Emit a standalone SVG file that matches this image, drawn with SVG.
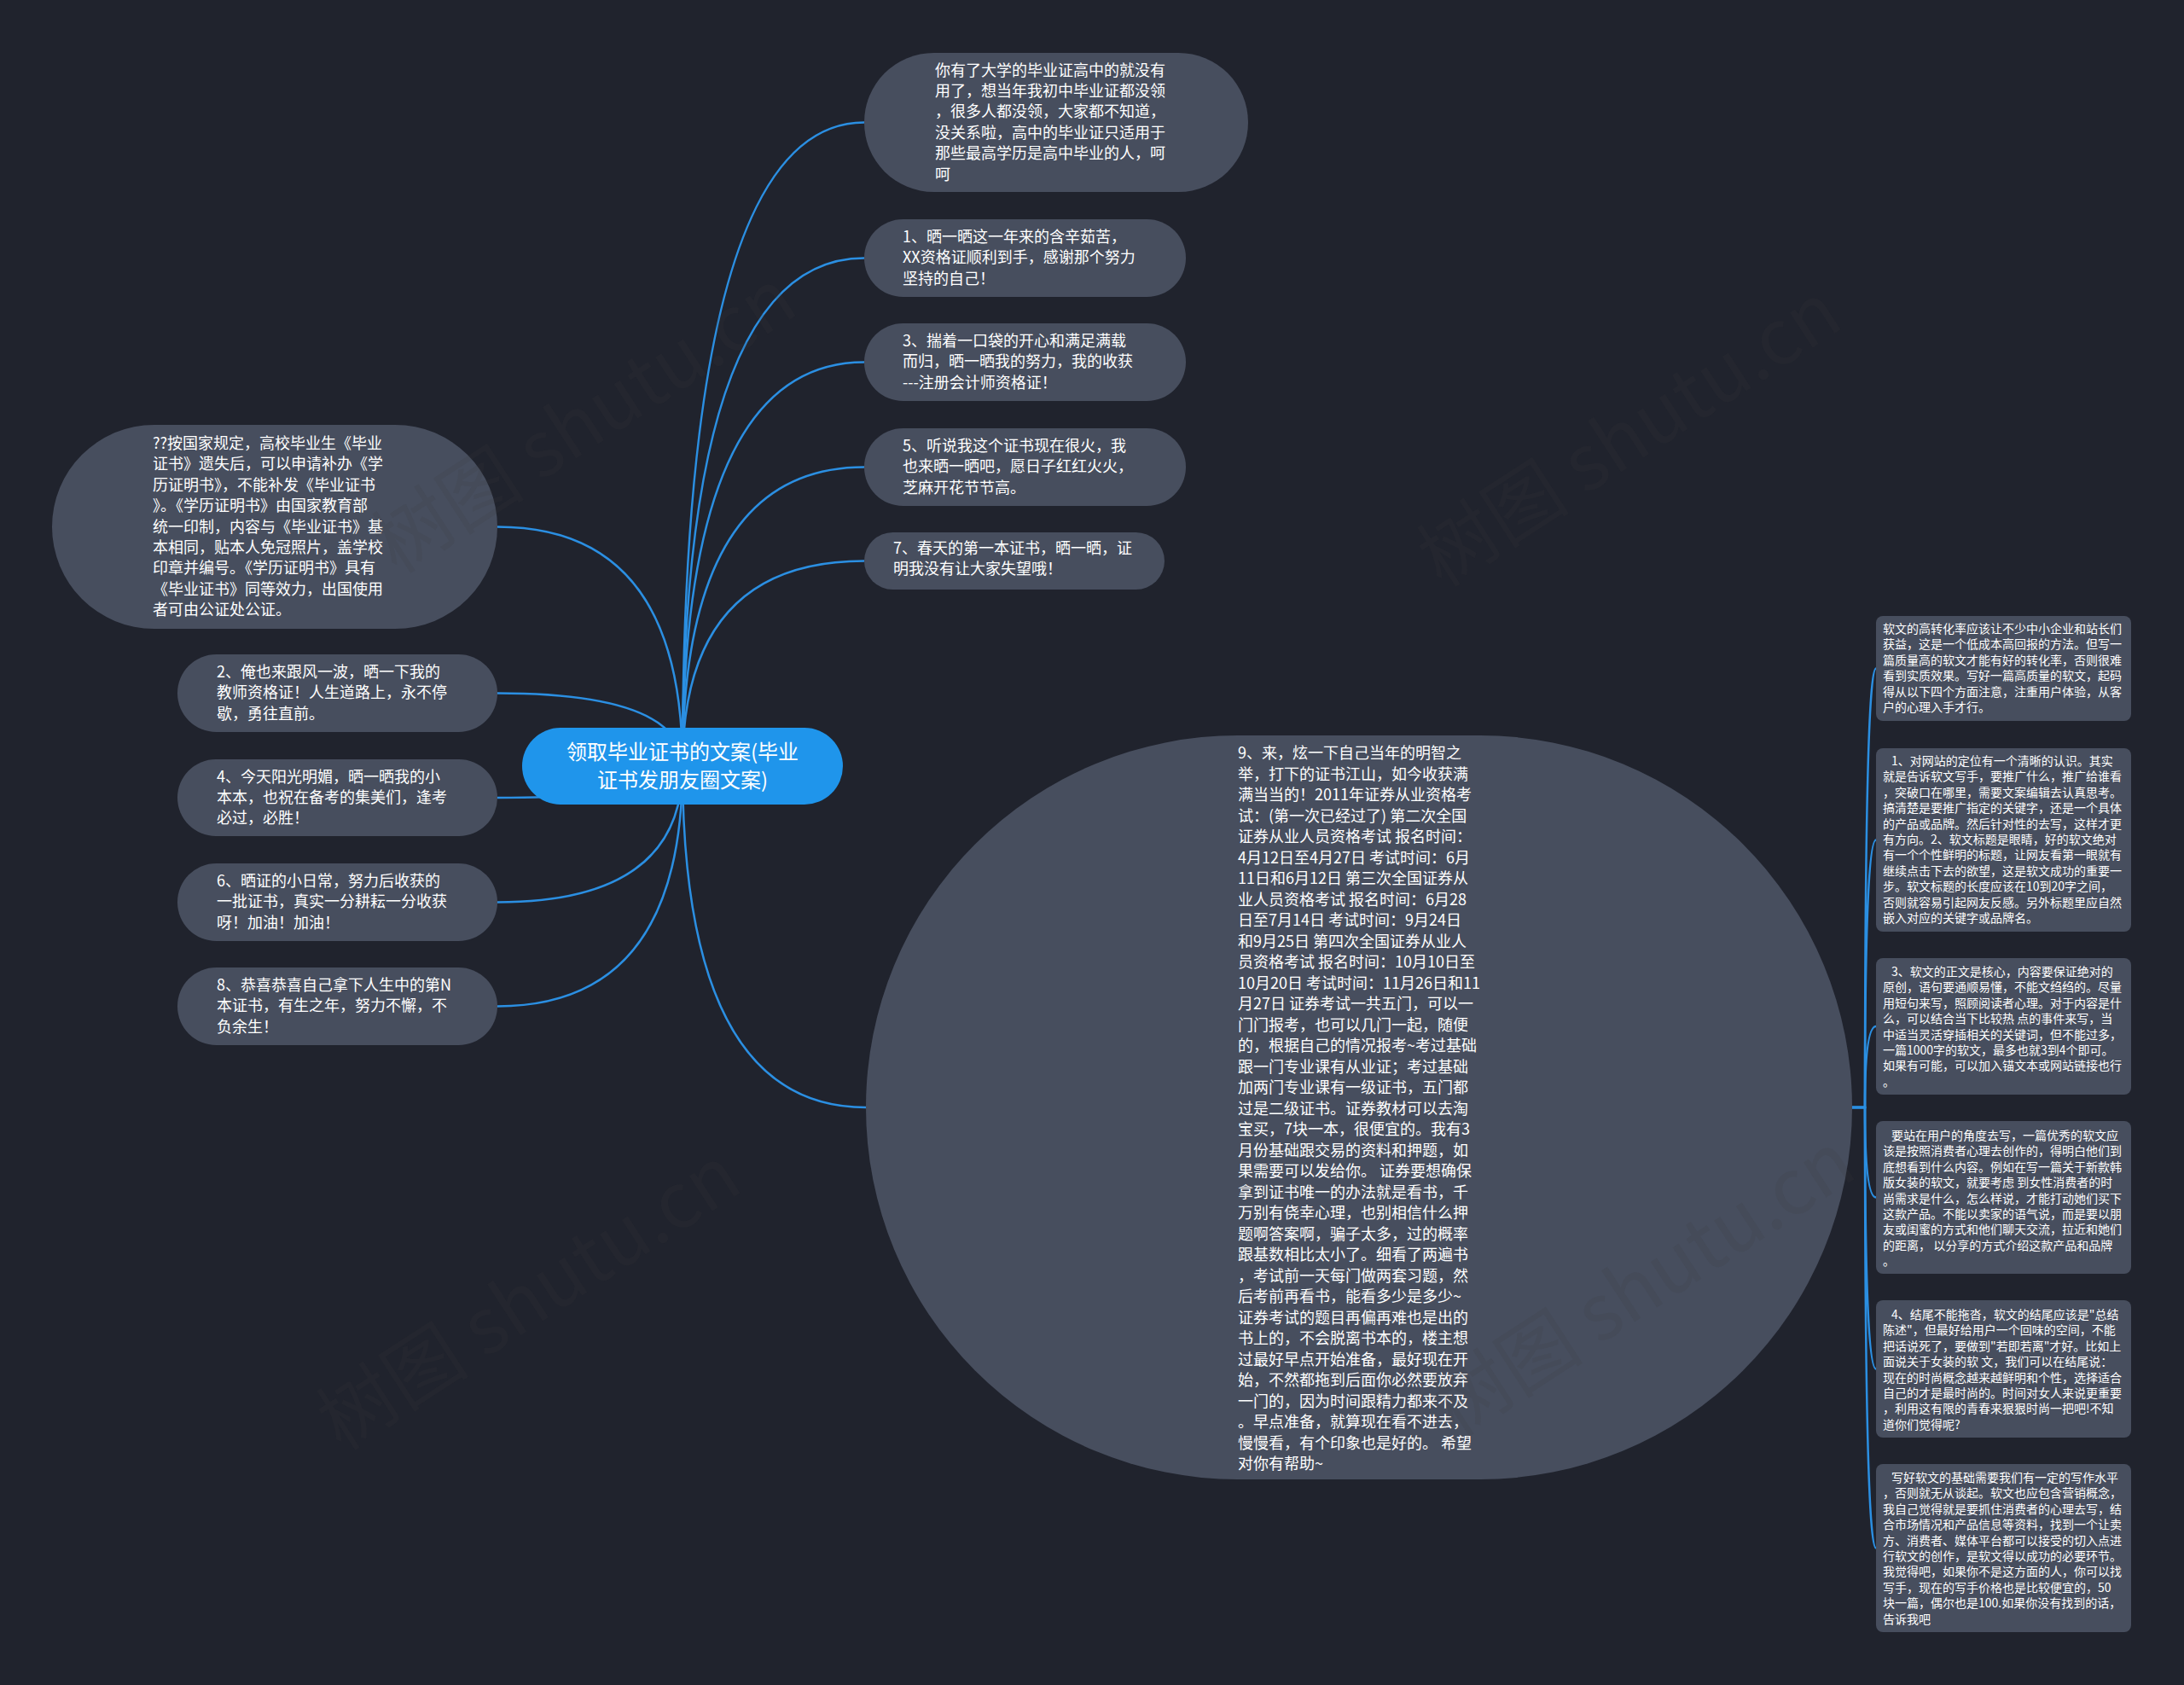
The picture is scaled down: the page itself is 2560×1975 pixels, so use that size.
<svg xmlns="http://www.w3.org/2000/svg" width="2560" height="1975" viewBox="0 0 2560 1975">
<defs>
<style>
.bg{fill:#20232d}
.gn{fill:#474e5e}
.rn{fill:#474e5e}
.cn{fill:#1f95eb}
.t{fill:#ffffff;font-family:"Noto Sans CJK SC","Noto Sans",sans-serif;font-size:18px}
.ts{fill:#ffffff;font-family:"Noto Sans CJK SC","Noto Sans",sans-serif;font-size:14px}
.tc{fill:#ffffff;font-family:"Noto Sans CJK SC","Noto Sans",sans-serif;font-size:24px;text-anchor:middle}
.ln{fill:none;stroke:#2b8fe2;stroke-width:2.5}
.wm{fill:#3c3c3c;fill-opacity:0.15;font-family:"Noto Sans CJK SC","Noto Sans",sans-serif;font-size:90px}
</style>
</defs>
<rect class="bg" x="0" y="0" width="2560" height="1975"/>

<g id="connectors">
<path class="ln" d="M800 898 Q800 143.5 1013 143.5"/>
<path class="ln" d="M800 898 Q800 302.5 1013 302.5"/>
<path class="ln" d="M800 898 Q800 424.5 1013 424.5"/>
<path class="ln" d="M800 898 Q800 547.5 1013 547.5"/>
<path class="ln" d="M800 898 Q800 657.5 1013 657.5"/>
<path class="ln" d="M800 898 Q800 1298 1015 1298"/>
<path class="ln" d="M800 898 Q800 617.5 583 617.5"/>
<path class="ln" d="M800 898 Q800 812.5 583 812.5"/>
<path class="ln" d="M800 898 Q800 935 583 935"/>
<path class="ln" d="M800 898 Q800 1057.5 583 1057.5"/>
<path class="ln" d="M800 898 Q800 1179.5 583 1179.5"/>
<path class="ln" d="M2171 1298 H2186 Q2186 783.5 2199 783.5"/>
<path class="ln" d="M2171 1298 H2186 Q2186 984.5 2199 984.5"/>
<path class="ln" d="M2171 1298 H2186 Q2186 1203 2199 1203"/>
<path class="ln" d="M2171 1298 H2186 Q2186 1403.5 2199 1403.5"/>
<path class="ln" d="M2171 1298 H2186 Q2186 1604.5 2199 1604.5"/>
<path class="ln" d="M2171 1298 H2186 Q2186 1814.5 2199 1814.5"/>
</g>

<g id="center">
<rect class="cn" x="612" y="853" width="376" height="90" rx="45"/>
<text class="tc"><tspan x="800" y="890">领取毕业证书的文案(毕业</tspan><tspan x="800" y="923">证书发朋友圈文案)</tspan></text>
</g>

<g id="n-top">
<rect class="gn" x="1013" y="62" width="450" height="163" rx="81.5"/>
<text class="t"><tspan x="1096" y="88.5">你有了大学的毕业证高中的就没有</tspan><tspan x="1096" y="112.9">用了，想当年我初中毕业证都没领</tspan><tspan x="1096" y="137.3">，很多人都没领，大家都不知道，</tspan><tspan x="1096" y="161.7">没关系啦，高中的毕业证只适用于</tspan><tspan x="1096" y="186.1">那些最高学历是高中毕业的人，呵</tspan><tspan x="1096" y="210.5">呵</tspan></text>
</g>

<g id="n1">
<rect class="gn" x="1013" y="257" width="377" height="91" rx="45.5"/>
<text class="t"><tspan x="1058" y="284">1、晒一晒这一年来的含辛茹苦，</tspan><tspan x="1058" y="308.4">XX资格证顺利到手，感谢那个努力</tspan><tspan x="1058" y="332.8">坚持的自己！</tspan></text>
</g>

<g id="n3">
<rect class="gn" x="1013" y="379" width="377" height="91" rx="45.5"/>
<text class="t"><tspan x="1058" y="406">3、揣着一口袋的开心和满足满载</tspan><tspan x="1058" y="430.4">而归，晒一晒我的努力，我的收获</tspan><tspan x="1058" y="454.8">---注册会计师资格证！</tspan></text>
</g>

<g id="n5">
<rect class="gn" x="1013" y="502" width="377" height="91" rx="45.5"/>
<text class="t"><tspan x="1058" y="529">5、听说我这个证书现在很火，我</tspan><tspan x="1058" y="553.4">也来晒一晒吧，愿日子红红火火，</tspan><tspan x="1058" y="577.8">芝麻开花节节高。</tspan></text>
</g>

<g id="n7">
<rect class="gn" x="1013" y="624" width="352" height="67" rx="33.5"/>
<text class="t"><tspan x="1047" y="649">7、春天的第一本证书，晒一晒，证</tspan><tspan x="1047" y="673.4">明我没有让大家失望哦！</tspan></text>
</g>

<g id="n-left">
<rect class="gn" x="61" y="498" width="522" height="239" rx="119.5"/>
<text class="t"><tspan x="179" y="526">??按国家规定，高校毕业生《毕业</tspan><tspan x="179" y="550.4">证书》遗失后，可以申请补办《学</tspan><tspan x="179" y="574.8">历证明书》，不能补发《毕业证书</tspan><tspan x="179" y="599.2">》。《学历证明书》由国家教育部</tspan><tspan x="179" y="623.6">统一印制，内容与《毕业证书》基</tspan><tspan x="179" y="648">本相同，贴本人免冠照片，盖学校</tspan><tspan x="179" y="672.4">印章并编号。《学历证明书》具有</tspan><tspan x="179" y="696.8">《毕业证书》同等效力，出国使用</tspan><tspan x="179" y="721.2">者可由公证处公证。</tspan></text>
</g>

<g id="n2">
<rect class="gn" x="208" y="767" width="375" height="91" rx="45.5"/>
<text class="t"><tspan x="254" y="794">2、俺也来跟风一波，晒一下我的</tspan><tspan x="254" y="818.4">教师资格证！人生道路上，永不停</tspan><tspan x="254" y="842.8">歇，勇往直前。</tspan></text>
</g>

<g id="n4">
<rect class="gn" x="208" y="890" width="375" height="90" rx="45"/>
<text class="t"><tspan x="254" y="916.5">4、今天阳光明媚，晒一晒我的小</tspan><tspan x="254" y="940.9">本本，也祝在备考的集美们，逢考</tspan><tspan x="254" y="965.3">必过，必胜！</tspan></text>
</g>

<g id="n6">
<rect class="gn" x="208" y="1012" width="375" height="91" rx="45.5"/>
<text class="t"><tspan x="254" y="1039">6、晒证的小日常，努力后收获的</tspan><tspan x="254" y="1063.4">一批证书，真实一分耕耘一分收获</tspan><tspan x="254" y="1087.8">呀！加油！加油！</tspan></text>
</g>

<g id="n8">
<rect class="gn" x="208" y="1134" width="375" height="91" rx="45.5"/>
<text class="t"><tspan x="254" y="1161">8、恭喜恭喜自己拿下人生中的第N</tspan><tspan x="254" y="1185.4">本证书，有生之年，努力不懈，不</tspan><tspan x="254" y="1209.8">负余生！</tspan></text>
</g>

<g id="n9">
<rect class="gn" x="1015" y="862" width="1156" height="872" rx="436"/>
<text class="t"><tspan x="1451" y="889">9、来，炫一下自己当年的明智之</tspan><tspan x="1451" y="913.5">举，打下的证书江山，如今收获满</tspan><tspan x="1451" y="938">满当当的！2011年证券从业资格考</tspan><tspan x="1451" y="962.5">试：(第一次已经过了) 第二次全国</tspan><tspan x="1451" y="987">证券从业人员资格考试 报名时间：</tspan><tspan x="1451" y="1011.5">4月12日至4月27日 考试时间：6月</tspan><tspan x="1451" y="1036">11日和6月12日 第三次全国证券从</tspan><tspan x="1451" y="1060.5">业人员资格考试 报名时间：6月28</tspan><tspan x="1451" y="1085">日至7月14日 考试时间：9月24日</tspan><tspan x="1451" y="1109.5">和9月25日 第四次全国证券从业人</tspan><tspan x="1451" y="1134">员资格考试 报名时间：10月10日至</tspan><tspan x="1451" y="1158.5">10月20日 考试时间：11月26日和11</tspan><tspan x="1451" y="1183">月27日 证券考试一共五门，可以一</tspan><tspan x="1451" y="1207.5">门门报考，也可以几门一起，随便</tspan><tspan x="1451" y="1232">的，根据自己的情况报考~考过基础</tspan><tspan x="1451" y="1256.5">跟一门专业课有从业证；考过基础</tspan><tspan x="1451" y="1281">加两门专业课有一级证书，五门都</tspan><tspan x="1451" y="1305.5">过是二级证书。证券教材可以去淘</tspan><tspan x="1451" y="1330">宝买，7块一本，很便宜的。我有3</tspan><tspan x="1451" y="1354.5">月份基础跟交易的资料和押题，如</tspan><tspan x="1451" y="1379">果需要可以发给你。 证券要想确保</tspan><tspan x="1451" y="1403.5">拿到证书唯一的办法就是看书，千</tspan><tspan x="1451" y="1428">万别有侥幸心理，也别相信什么押</tspan><tspan x="1451" y="1452.5">题啊答案啊，骗子太多，过的概率</tspan><tspan x="1451" y="1477">跟基数相比太小了。细看了两遍书</tspan><tspan x="1451" y="1501.5">，考试前一天每门做两套习题，然</tspan><tspan x="1451" y="1526">后考前再看书，能看多少是多少~</tspan><tspan x="1451" y="1550.5">证券考试的题目再偏再难也是出的</tspan><tspan x="1451" y="1575">书上的，不会脱离书本的，楼主想</tspan><tspan x="1451" y="1599.5">过最好早点开始准备，最好现在开</tspan><tspan x="1451" y="1624">始，不然都拖到后面你必然要放弃</tspan><tspan x="1451" y="1648.5">一门的，因为时间跟精力都来不及</tspan><tspan x="1451" y="1673">。早点准备，就算现在看不进去，</tspan><tspan x="1451" y="1697.5">慢慢看，有个印象也是好的。 希望</tspan><tspan x="1451" y="1722">对你有帮助~</tspan></text>
</g>

<g id="rA">
<rect class="rn" x="2199" y="722" width="299" height="123" rx="8"/>
<text class="ts"><tspan x="2207" y="742">软文的高转化率应该让不少中小企业和站长们</tspan><tspan x="2207" y="760.4">获益，这是一个低成本高回报的方法。但写一</tspan><tspan x="2207" y="778.8">篇质量高的软文才能有好的转化率，否则很难</tspan><tspan x="2207" y="797.2">看到实质效果。写好一篇高质量的软文，起码</tspan><tspan x="2207" y="815.6">得从以下四个方面注意，注重用户体验，从客</tspan><tspan x="2207" y="834">户的心理入手才行。</tspan></text>
</g>

<g id="rB">
<rect class="rn" x="2199" y="877" width="299" height="215" rx="8"/>
<text class="ts"><tspan x="2217" y="897">1、对网站的定位有一个清晰的认识。其实</tspan><tspan x="2207" y="915.4">就是告诉软文写手，要推广什么，推广给谁看</tspan><tspan x="2207" y="933.8">，突破口在哪里，需要文案编辑去认真思考。</tspan><tspan x="2207" y="952.2">搞清楚是要推广指定的关键字，还是一个具体</tspan><tspan x="2207" y="970.6">的产品或品牌。然后针对性的去写，这样才更</tspan><tspan x="2207" y="989">有方向。2、软文标题是眼睛，好的软文绝对</tspan><tspan x="2207" y="1007.4">有一个个性鲜明的标题，让网友看第一眼就有</tspan><tspan x="2207" y="1025.8">继续点击下去的欲望，这是软文成功的重要一</tspan><tspan x="2207" y="1044.2">步。软文标题的长度应该在10到20字之间，</tspan><tspan x="2207" y="1062.6">否则就容易引起网友反感。另外标题里应自然</tspan><tspan x="2207" y="1081">嵌入对应的关键字或品牌名。</tspan></text>
</g>

<g id="rC">
<rect class="rn" x="2199" y="1123" width="299" height="160" rx="8"/>
<text class="ts"><tspan x="2217" y="1144">3、软文的正文是核心，内容要保证绝对的</tspan><tspan x="2207" y="1162.4">原创，语句要通顺易懂，不能文绉绉的。尽量</tspan><tspan x="2207" y="1180.8">用短句来写，照顾阅读者心理。对于内容是什</tspan><tspan x="2207" y="1199.2">么，可以结合当下比较热 点的事件来写，当</tspan><tspan x="2207" y="1217.6">中适当灵活穿插相关的关键词，但不能过多，</tspan><tspan x="2207" y="1236">一篇1000字的软文，最多也就3到4个即可。</tspan><tspan x="2207" y="1254.4">如果有可能，可以加入锚文本或网站链接也行</tspan><tspan x="2207" y="1272.8">。</tspan></text>
</g>

<g id="rD">
<rect class="rn" x="2199" y="1314" width="299" height="179" rx="8"/>
<text class="ts"><tspan x="2217" y="1336">要站在用户的角度去写，一篇优秀的软文应</tspan><tspan x="2207" y="1354.4">该是按照消费者心理去创作的，得明白他们到</tspan><tspan x="2207" y="1372.8">底想看到什么内容。例如在写一篇关于新款韩</tspan><tspan x="2207" y="1391.2">版女装的软文，就要考虑 到女性消费者的时</tspan><tspan x="2207" y="1409.6">尚需求是什么，怎么样说，才能打动她们买下</tspan><tspan x="2207" y="1428">这款产品。不能以卖家的语气说，而是要以朋</tspan><tspan x="2207" y="1446.4">友或闺蜜的方式和他们聊天交流，拉近和她们</tspan><tspan x="2207" y="1464.8">的距离， 以分享的方式介绍这款产品和品牌</tspan><tspan x="2207" y="1483.2">。</tspan></text>
</g>

<g id="rE">
<rect class="rn" x="2199" y="1524" width="299" height="161" rx="8"/>
<text class="ts"><tspan x="2217" y="1546">4、结尾不能拖沓，软文的结尾应该是"总结</tspan><tspan x="2207" y="1564.4">陈述"，但最好给用户一个回味的空间，不能</tspan><tspan x="2207" y="1582.8">把话说死了，要做到"若即若离"才好。比如上</tspan><tspan x="2207" y="1601.2">面说关于女装的软 文，我们可以在结尾说：</tspan><tspan x="2207" y="1619.6">现在的时尚概念越来越鲜明和个性，选择适合</tspan><tspan x="2207" y="1638">自己的才是最时尚的。时间对女人来说更重要</tspan><tspan x="2207" y="1656.4">，利用这有限的青春来狠狠时尚一把吧!不知</tspan><tspan x="2207" y="1674.8">道你们觉得呢?</tspan></text>
</g>

<g id="rF">
<rect class="rn" x="2199" y="1716" width="299" height="197" rx="8"/>
<text class="ts"><tspan x="2217" y="1737">写好软文的基础需要我们有一定的写作水平</tspan><tspan x="2207" y="1755.4">，否则就无从谈起。软文也应包含营销概念，</tspan><tspan x="2207" y="1773.8">我自己觉得就是要抓住消费者的心理去写，结</tspan><tspan x="2207" y="1792.2">合市场情况和产品信息等资料，找到一个让卖</tspan><tspan x="2207" y="1810.6">方、消费者、媒体平台都可以接受的切入点进</tspan><tspan x="2207" y="1829">行软文的创作，是软文得以成功的必要环节。</tspan><tspan x="2207" y="1847.4">我觉得吧，如果你不是这方面的人，你可以找</tspan><tspan x="2207" y="1865.8">写手，现在的写手价格也是比较便宜的，50</tspan><tspan x="2207" y="1884.2">块一篇，偶尔也是100.如果你没有找到的话，</tspan><tspan x="2207" y="1902.6">告诉我吧</tspan></text>
</g>

<g id="watermarks">
<text class="wm" text-anchor="middle" transform="translate(702 520) rotate(-33)">树图 shutu.cn</text>
<text class="wm" text-anchor="middle" transform="translate(1927 536) rotate(-33)">树图 shutu.cn</text>
<text class="wm" text-anchor="middle" transform="translate(637 1548) rotate(-33)">树图 shutu.cn</text>
<text class="wm" text-anchor="middle" transform="translate(1943 1532) rotate(-33)">树图 shutu.cn</text>
</g>
</svg>
